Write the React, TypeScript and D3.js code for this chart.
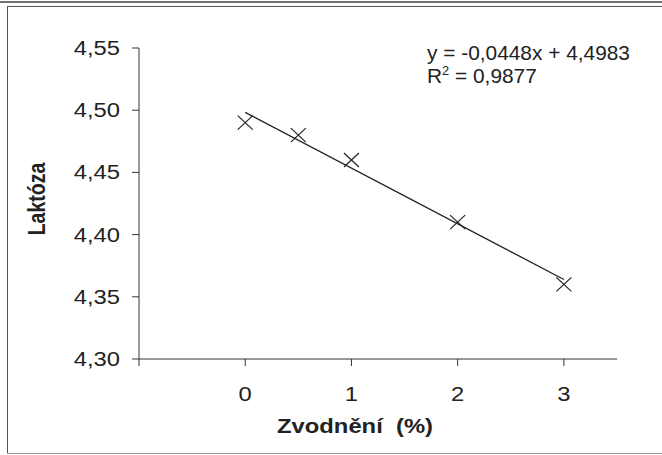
import React from "react";
import * as d3 from "d3";

const xValues = [0, 0.5, 1, 2, 3];
const yValues = [4.49, 4.48, 4.46, 4.41, 4.36];
const xTicks = [0, 1, 2, 3];
const yTicks = [4.3, 4.35, 4.4, 4.45, 4.5, 4.55];
const slope = -0.0448;
const intercept = 4.4983;
const eqLabel = "y = -0,0448x + 4,4983";
const r2Value = "0,9877";
const xTitle = "Zvodnění  (%)";
const yTitle = "Laktóza";

const SX = 1.22;

function T({ x, y, sx = SX, anchor = "start", size = 19.5, bold = false, children, rotate = 0 }: any) {
  return (
    <text
      transform={`translate(${x},${y}) scale(${sx},1)${rotate ? ` rotate(${rotate})` : ""}`}
      textAnchor={anchor}
      fontSize={size}
      fontWeight={bold ? "bold" : "normal"}
      fill="#222"
      style={{ whiteSpace: "pre" }}
    >
      {children}
    </text>
  );
}

export default function App() {
  const W = 662, H = 455;
  const x = d3.scaleLinear().domain([-1, 3.5]).range([139, 617]);
  const y = d3.scaleLinear().domain([4.3, 4.55]).range([359, 48]);
  const fmt = (v: number) => v.toFixed(2).replace(".", ",");
  const font = "'Liberation Sans', Arial, sans-serif";
  const line = d3.line<number>().x((d) => x(d)).y((d) => y(intercept + slope * d));
  const mx = 7.5, my = 7;
  return (
    <svg width={W} height={H} style={{ position: "absolute", left: 0, top: 0 }} fontFamily={font}>
      <rect x={0} y={0} width={W} height={H} fill="#fff" />
      <line x1={0} x2={W} y1={2} y2={2} stroke="#444" strokeWidth={1.5} />
      <line x1={7} x2={W} y1={6.5} y2={6.5} stroke="#555" strokeWidth={1} />
      <line x1={7.5} x2={7.5} y1={6} y2={454} stroke="#555" strokeWidth={1} />
      <line x1={7} x2={W} y1={453.5} y2={453.5} stroke="#999" strokeWidth={1} />
      {/* axes */}
      <line x1={x(-1)} x2={x(-1)} y1={y(4.55)} y2={y(4.3) + 7} stroke="#333" strokeWidth={1} />
      <line x1={x(-1)} x2={x(3.5)} y1={y(4.3)} y2={y(4.3)} stroke="#333" strokeWidth={1} />
      {yTicks.map((t) => (
        <g key={t}>
          <line x1={x(-1) - 7} x2={x(-1)} y1={y(t)} y2={y(t)} stroke="#333" />
          <T x={120} y={y(t) + 7} anchor="end">{fmt(t)}</T>
        </g>
      ))}
      {xTicks.map((t) => (
        <g key={t}>
          <line x1={x(t)} x2={x(t)} y1={y(4.3)} y2={y(4.3) + 7} stroke="#333" />
          <T x={x(t)} y={401} anchor="middle">{String(t)}</T>
        </g>
      ))}
      <path d={line([0, 3]) || ""} fill="none" stroke="#222" strokeWidth={1.3} />
      {xValues.map((v, i) => (
        <g key={i} stroke="#222" strokeWidth={1.2}>
          <line x1={x(v) - mx} x2={x(v) + mx} y1={y(yValues[i]) - my} y2={y(yValues[i]) + my} />
          <line x1={x(v) - mx} x2={x(v) + mx} y1={y(yValues[i]) + my} y2={y(yValues[i]) - my} />
        </g>
      ))}
      <T x={427} y={60} sx={1.07}>{eqLabel}</T>
      <text transform={`translate(427,83) scale(1.07,1)`} fontSize={19.5} fill="#222">
        R<tspan dy={-8} fontSize={12}>2</tspan>
        <tspan dy={8}> = {r2Value}</tspan>
      </text>
      <T x={355} y={433} anchor="middle" bold>{xTitle}</T>
      <text
        transform={`translate(45, 199) scale(${SX},1) rotate(-90)`}
        textAnchor="middle"
        fontSize={19.5}
        fontWeight="bold"
        fill="#222"
      >
        {yTitle}
      </text>
    </svg>
  );
}
